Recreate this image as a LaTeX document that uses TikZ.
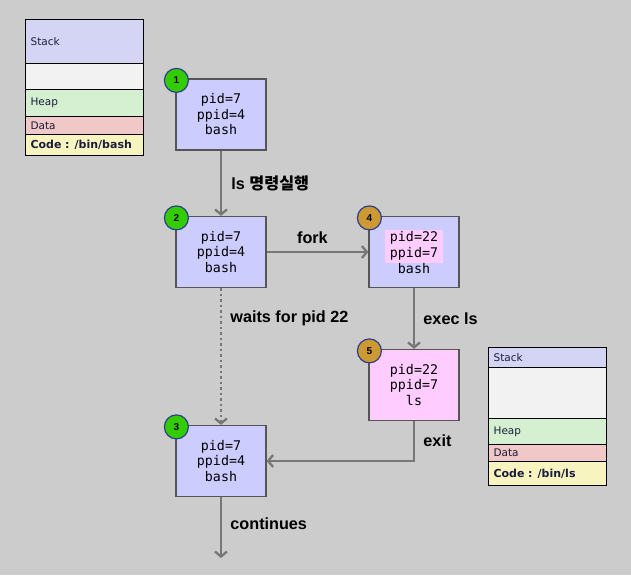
\documentclass[tikz,border=0pt]{standalone}
\usepackage{fontspec}
\setmainfont{Liberation Sans}
\newfontfamily\monofont{DejaVu Sans Mono}
\newfontfamily\memfont{DejaVu Sans}
\newfontfamily\kofont{Noto Sans CJK KR}
\usetikzlibrary{arrows.meta}
\definecolor{bg}{HTML}{CCCCCC}
\definecolor{procblue}{HTML}{CCCCFF}
\definecolor{procpink}{HTML}{FFCCFF}
\definecolor{hlpink}{HTML}{FFCCFF}
\definecolor{boxline}{HTML}{555555}
\definecolor{flowgray}{HTML}{777777}
\definecolor{badgeline}{HTML}{2B3F8A}
\definecolor{badgegreen}{HTML}{33CC00}
\definecolor{badgegold}{HTML}{CC9933}
\definecolor{memtext}{HTML}{1C1C3C}
\definecolor{segstack}{HTML}{D4D4F4}
\definecolor{segfree}{HTML}{F2F2F2}
\definecolor{segheap}{HTML}{D4F0D0}
\definecolor{segdata}{HTML}{F0C8C8}
\definecolor{segcode}{HTML}{F8F4C0}
\setlength{\fboxsep}{1pt}
\begin{document}
\begin{tikzpicture}[x=1pt,y=-1pt,
  proc/.style={draw=boxline, line width=1.2pt, fill=procblue, minimum width=90pt, minimum height=71pt, align=center, font=\monofont\fontsize{13.3}{15.5}\selectfont},
  badge/.style={circle, draw=badgeline, line width=1.2pt, minimum size=24pt, inner sep=0pt, font=\bfseries\fontsize{10}{10}\selectfont},
  seg/.style={draw=black, line width=1.2pt, minimum width=118pt, text width=108pt, inner xsep=5pt, inner ysep=1pt, anchor=north west, align=left, font=\memfont\fontsize{10.5}{12}\selectfont, text=memtext},
  flow/.style={draw=flowgray, line width=2.3pt, -{Straight Barb[length=5pt,width=12pt]}},
  lbl/.style={font=\bfseries\fontsize{16.2}{19}\selectfont}]
\fill[bg] (0,0) rectangle (631,575);
% memory of bash
\node[seg, fill=segstack, minimum height=44pt] (bashstack) at (25,19) {Stack};
\node[seg, fill=segfree, minimum height=26pt] (bashfree) at (25,63) {};
\node[seg, fill=segheap, minimum height=27pt] (bashheap) at (25,89) {Heap};
\node[seg, fill=segdata, minimum height=18pt] (bashdata) at (25,116) {Data};
\node[seg, fill=segcode, minimum height=21pt] (bashcode) at (25,134) {\bfseries\fontsize{11}{12}\selectfont Code : /bin/bash};
% memory of ls
\node[seg, fill=segstack, minimum height=20pt] (lsstack) at (488,347) {Stack};
\node[seg, fill=segfree, minimum height=51pt] (lsfree) at (488,367) {};
\node[seg, fill=segheap, minimum height=26pt] (lsheap) at (488,418) {Heap};
\node[seg, fill=segdata, minimum height=17pt] (lsdata) at (488,444) {Data};
\node[seg, fill=segcode, minimum height=24pt] (lscode) at (488,461) {\bfseries\fontsize{11}{12}\selectfont Code : /bin/ls};
% processes
\node[proc] (p1) at (221,114.5) {pid=7\\ppid=4\\bash};
\node[proc] (p2) at (221,252) {pid=7\\ppid=4\\bash};
\node[proc] (p3) at (221,461) {pid=7\\ppid=4\\bash};
\node[proc] (p4) at (414,252) {\colorbox{hlpink}{\makebox[56pt]{\begin{tabular}[b]{@{}c@{}}pid=22\\ppid=7\end{tabular}}}\\bash};
\node[proc, fill=procpink] (p5) at (414,385) {pid=22\\ppid=7\\ls};
\coordinate (stop) at (221,558);
% steps
\node[badge, fill=badgegreen] (b1) at ([shift={(1pt,-2pt)}]p1.north west) {1};
\node[badge, fill=badgegreen] (b2) at ([shift={(1pt,-2pt)}]p2.north west) {2};
\node[badge, fill=badgegreen] (b3) at ([shift={(1pt,-2pt)}]p3.north west) {3};
\node[badge, fill=badgegold] (b4) at ([shift={(1pt,-2pt)}]p4.north west) {4};
\node[badge, fill=badgegold] (b5) at ([shift={(1pt,-2pt)}]p5.north west) {5};
% flow
\draw[flow] (p1) -- node[lbl, right=6pt] {ls {\kofont 명령실행}} (p2);
\draw[flow] (p2) -- node[lbl, above=4pt, pos=0.45] {fork} (p4);
\draw[flow, dash pattern=on 2.5pt off 3pt] (p2) -- node[lbl, right=5pt, pos=0.22] {waits for pid 22} (p3);
\draw[flow] (p4) -- node[lbl, right=5pt] {exec ls} (p5);
\draw[flow] (p5.south) |- node[lbl, right=5pt, pos=0.25] {exit} (p3.east);
\draw[flow] (p3) -- node[lbl, right=5pt, pos=0.43] {continues} (stop);
\end{tikzpicture}
\end{document}
